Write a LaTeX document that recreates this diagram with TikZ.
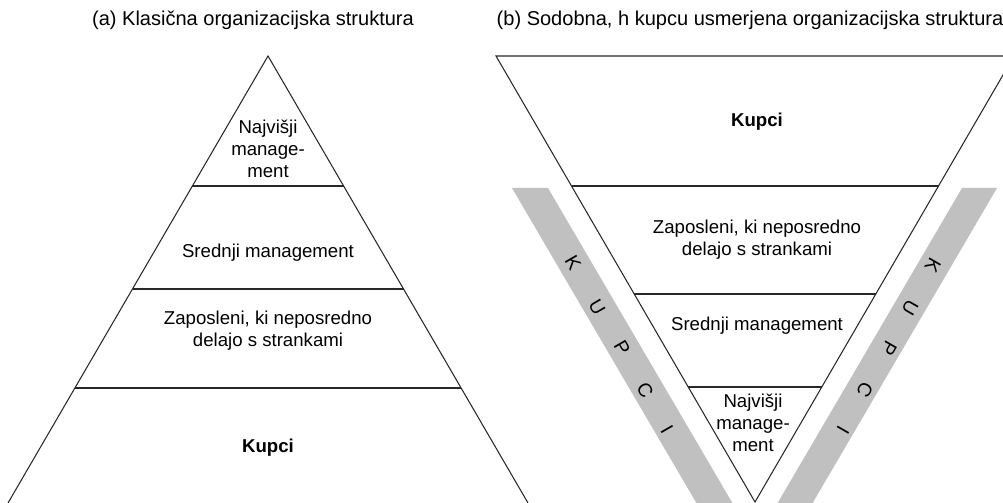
\documentclass[tikz,border=0pt]{standalone}
\usepackage{fontspec}
\setmainfont{Liberation Sans}
\usepackage{xcolor}
\definecolor{kupcigray}{RGB}{192,192,192}
\definecolor{linegray}{RGB}{40,40,40}
\usetikzlibrary{positioning}

\begin{document}
\begin{tikzpicture}[
  x=0.02cm, y=-0.02cm,
  every node/.style={font=\fontsize{10.6}{12.6}\selectfont},
  titletext/.style={font=\fontsize{11.4}{13.4}\selectfont},
  layertext/.style={align=center,inner sep=1pt},
  tri/.style={draw=linegray,line width=0.6pt,line join=miter},
  sepline/.style={draw=linegray,line width=0.6pt},
  kupcibar/.style={fill=kupcigray,draw=none},
  barletter/.style={inner sep=0pt,font=\fontsize{11}{13}\selectfont},
]
  \useasboundingbox (0,0) rectangle (1003,503);
  \clip (0,0) rectangle (1003,503);

  % Titles
  \node[titletext] (titleA) at (253,20) {(a) Klasična organizacijska struktura};
  \node[titletext] (titleB) at (750,20) {(b) Sodobna, h kupcu usmerjena organizacijska struktura};

  % (a) classic pyramid
  \draw[tri] (8,503) -- (268,56) -- (528,503);
  \draw[sepline] (192.4,186) -- (343.6,186);
  \draw[sepline] (132.5,289) -- (403.5,289);
  \draw[sepline] (74.9,388) -- (461.1,388);

  \node[layertext] (a1) at (268,149) {Najvišji\\manage-\\ment};
  \node[layertext] (a2) at (268,253) {Srednji management};
  \node[layertext] (a3) at (268,331) {Zaposleni, ki neposredno\\delajo s strankami};
  \node[layertext,font=\fontsize{10.6}{12.6}\selectfont\bfseries] (a4) at (268,448) {Kupci};

  % (b) inverted pyramid, side bars first
  \fill[kupcibar] (512,188) -- (548,188) -- (740,516) -- (704,516) -- cycle;
  \fill[kupcibar] (962,188) -- (997,188) -- (805,516) -- (770,516) -- cycle;

  \draw[tri] (496,56) -- (1014,56) -- (755,502) -- cycle;
  \draw[sepline] (571.5,186) -- (938.5,186);
  \draw[sepline] (634.2,294) -- (875.8,294);
  \draw[sepline] (688.2,387) -- (821.8,387);

  \node[layertext,font=\fontsize{10.6}{12.6}\selectfont\bfseries] (b1) at (757,122) {Kupci};
  \node[layertext] (b2) at (757,240) {Zaposleni, ki neposredno\\delajo s strankami};
  \node[layertext] (b3) at (757,326) {Srednji management};
  \node[layertext] (b4) at (753,423) {Najvišji\\manage-\\ment};

  % Letters on the bars
  \foreach \ch/\px/\py [count=\i] in {K/573/263, U/597/307, P/622/348, C/645/390, I/667/429}
    \node[barletter,rotate=-60] (kl\i) at (\px,\py) {\ch};
  \foreach \ch/\px/\py [count=\i] in {K/933/265, U/910/308, P/889/348, C/865/390, I/843/430}
    \node[barletter,rotate=-120] (kr\i) at (\px,\py) {\ch};
\end{tikzpicture}
\end{document}
